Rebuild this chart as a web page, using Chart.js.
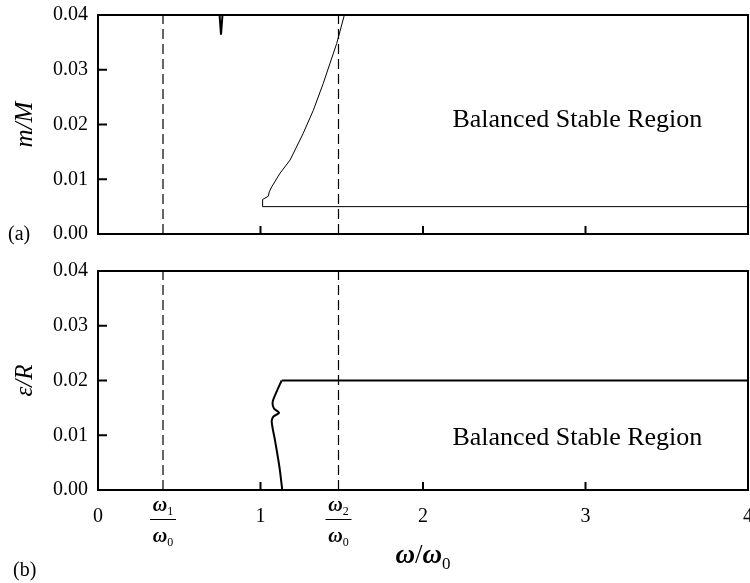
<!DOCTYPE html>
<html>
<head>
<meta charset="utf-8">
<script src="https://cdn.jsdelivr.net/npm/chart.js@4.4.1/dist/chart.umd.min.js"></script>
<style>
  body { margin: 0; background: #fff; }
  #wrap { position: relative; width: 750px; height: 583px; }
  canvas { position: absolute; left: 0; }
</style>
</head>
<body>
<div id="wrap">
  <canvas id="topChart" width="750" height="252" style="top:0"></canvas>
  <canvas id="botChart" width="750" height="331" style="top:252px"></canvas>
</div>
<script>
// axes
var xMin = 0, xMax = 4;
var yMin = 0, yMax = 0.04;
var xTicks = [0, 1, 2, 3, 4];
var yTicks = [0, 0.01, 0.02, 0.03, 0.04];
var omega1 = 0.4, omega2 = 1.48;

// (a) m/M boundary
var massX = [4.0, 1.013, 1.013, 1.048, 1.054, 1.069, 1.12, 1.182, 1.263, 1.325, 1.386, 1.428, 1.469, 1.516];
var massY = [0.005, 0.005, 0.0063, 0.0069, 0.0077, 0.0086, 0.0111, 0.0135, 0.0184, 0.0226, 0.0275, 0.0312, 0.0348, 0.04];
// small spike near the top
var dipX = [0.748, 0.757, 0.766];
var dipY = [0.04, 0.0364, 0.04];

// (b) e/R boundary (first two points: flat top)
var eccX = [4.0, 1.13, 1.10, 1.075, 1.083, 1.114, 1.079, 1.069, 1.089, 1.116, 1.134];
var eccY = [0.02, 0.02, 0.018, 0.0161, 0.0149, 0.0141, 0.0134, 0.0125, 0.0091, 0.0043, 0];

// text positions (data units)
var regionX = 2.95, regionYTop = 0.0208, regionYBot = 0.0095;

var SERIF = "'Liberation Serif', 'Times New Roman', serif";

function pts(xs, ys) {
  return xs.map(function (x, i) { return {x: x, y: ys[i]}; });
}

function vline(v) {
  return {
    data: [{x: v, y: yMin}, {x: v, y: yMax}],
    borderColor: '#000', borderWidth: 1.2, borderDash: [10, 5],
    pointRadius: 0, showLine: true
  };
}

function line(data, w, t) {
  return {
    data: data, borderColor: '#000', borderWidth: w,
    pointRadius: 0, showLine: true, tension: t || 0
  };
}

// frame, inner ticks and texts
function framePlugin(cfg) {
  return {
    id: 'frame',
    afterDatasetsDraw: function (chart) {
      var ctx = chart.ctx, a = chart.chartArea;
      var xs = chart.scales.x, ys = chart.scales.y;
      ctx.save();
      ctx.strokeStyle = '#000';
      ctx.lineWidth = 2;
      ctx.strokeRect(a.left, a.top, a.right - a.left, a.bottom - a.top);
      ctx.beginPath();
      xTicks.slice(1, -1).forEach(function (v) {
        var px = xs.getPixelForValue(v);
        ctx.moveTo(px, a.bottom); ctx.lineTo(px, a.bottom - 8);
      });
      yTicks.slice(1, -1).forEach(function (v) {
        var py = ys.getPixelForValue(v);
        ctx.moveTo(a.left, py); ctx.lineTo(a.left + 9, py);
      });
      ctx.stroke();

      ctx.fillStyle = '#000';
      // y tick labels
      ctx.font = '20px ' + SERIF;
      ctx.textAlign = 'right';
      ctx.textBaseline = 'middle';
      yTicks.forEach(function (v) {
        ctx.fillText(v.toFixed(2), a.left - 10, ys.getPixelForValue(v));
      });

      // region label
      ctx.font = '26px ' + SERIF;
      ctx.textAlign = 'center';
      ctx.fillText('Balanced Stable Region', xs.getPixelForValue(regionX), ys.getPixelForValue(cfg.regionY));

      // panel letter
      ctx.font = '20px ' + SERIF;
      ctx.textAlign = 'left';
      ctx.textBaseline = 'alphabetic';
      ctx.fillText(cfg.letter, cfg.letterX, cfg.letterY);

      // y title
      ctx.save();
      ctx.translate(25, (a.top + a.bottom) / 2);
      ctx.rotate(-Math.PI / 2);
      ctx.font = 'italic 25px ' + SERIF;
      ctx.textAlign = 'center';
      ctx.textBaseline = 'middle';
      ctx.fillText(cfg.yTitle, 0, 0);
      ctx.restore();

      if (cfg.xLabels) drawXLabels(chart);
      ctx.restore();
    }
  };
}

function omegaWithSub(ctx, cx, base, sub, big, small) {
  ctx.font = 'italic bold ' + big + 'px ' + SERIF;
  var w1 = ctx.measureText('\u03C9').width;
  ctx.font = small + 'px ' + SERIF;
  var w2 = ctx.measureText(sub).width;
  var x0 = cx - (w1 + w2) / 2;
  ctx.font = 'italic bold ' + big + 'px ' + SERIF;
  ctx.fillText('\u03C9', x0, base);
  ctx.font = small + 'px ' + SERIF;
  ctx.fillText(sub, x0 + w1, base + big * 0.18);
}

function drawXLabels(chart) {
  var ctx = chart.ctx, a = chart.chartArea, xs = chart.scales.x;
  var base = a.bottom + 32;
  ctx.textAlign = 'center';
  ctx.textBaseline = 'alphabetic';
  ctx.font = '20px ' + SERIF;
  xTicks.forEach(function (v) {
    ctx.fillText(String(v), xs.getPixelForValue(v), base);
  });
  ctx.textAlign = 'left';
  [[omega1, '1'], [omega2, '2']].forEach(function (f) {
    var cx = xs.getPixelForValue(f[0]);
    omegaWithSub(ctx, cx, a.bottom + 21, f[1], 20, 12);
    ctx.lineWidth = 1;
    ctx.beginPath();
    ctx.moveTo(cx - 13, a.bottom + 29.5); ctx.lineTo(cx + 13, a.bottom + 29.5);
    ctx.stroke();
    omegaWithSub(ctx, cx, a.bottom + 52, '0', 20, 12);
  });
  // axis title w/w0
  var cx = (a.left + a.right) / 2, base2 = a.bottom + 73;
  ctx.font = 'italic bold 27px ' + SERIF;
  var wOm = ctx.measureText('\u03C9').width;
  ctx.font = '27px ' + SERIF;
  var wSl = ctx.measureText('/').width;
  ctx.font = '17px ' + SERIF;
  var wSub = ctx.measureText('0').width;
  var x0 = cx - (2 * wOm + wSl + wSub) / 2;
  ctx.font = 'italic bold 27px ' + SERIF;
  ctx.fillText('\u03C9', x0, base2);
  ctx.font = '27px ' + SERIF;
  ctx.fillText('/', x0 + wOm, base2);
  ctx.font = 'italic bold 27px ' + SERIF;
  ctx.fillText('\u03C9', x0 + wOm + wSl, base2);
  ctx.font = '17px ' + SERIF;
  ctx.fillText('0', x0 + 2 * wOm + wSl, base2 + 6);
}

function options(xHeight, pad) {
  return {
    responsive: false,
    animation: false,
    layout: {padding: pad},
    plugins: {legend: {display: false}, tooltip: {enabled: false}},
    scales: {
      x: {
        type: 'linear', min: xMin, max: xMax,
        grid: {display: false, drawTicks: false},
        border: {display: false},
        ticks: {display: false},
        afterFit: function (s) { s.height = xHeight; }
      },
      y: {
        type: 'linear', min: yMin, max: yMax,
        grid: {display: false, drawTicks: false},
        border: {display: false},
        ticks: {display: false},
        afterFit: function (s) { s.width = 98; }
      }
    }
  };
}

new Chart(document.getElementById('topChart'), {
  type: 'scatter',
  data: {
    datasets: [
      vline(omega1), vline(omega2),
      line(pts(massX, massY), 1),
      line(pts(dipX, dipY), 2)
    ]
  },
  options: options(18, {top: 15, right: 2, left: 0, bottom: 0}),
  plugins: [framePlugin({letter: '(a)', letterX: 8, letterY: 240, yTitle: 'm/M', regionY: regionYTop})]
});

var eccPts = pts(eccX, eccY);
new Chart(document.getElementById('botChart'), {
  type: 'scatter',
  data: {
    datasets: [
      vline(omega1), vline(omega2),
      line(eccPts.slice(0, 2), 2),
      line(eccPts.slice(1), 2, 0.3)
    ]
  },
  options: options(93, {top: 19, right: 2, left: 0, bottom: 0}),
  plugins: [framePlugin({letter: '(b)', letterX: 13, letterY: 324, yTitle: '\u03B5/R', regionY: regionYBot, xLabels: true})]
});
</script>
</body>
</html>
